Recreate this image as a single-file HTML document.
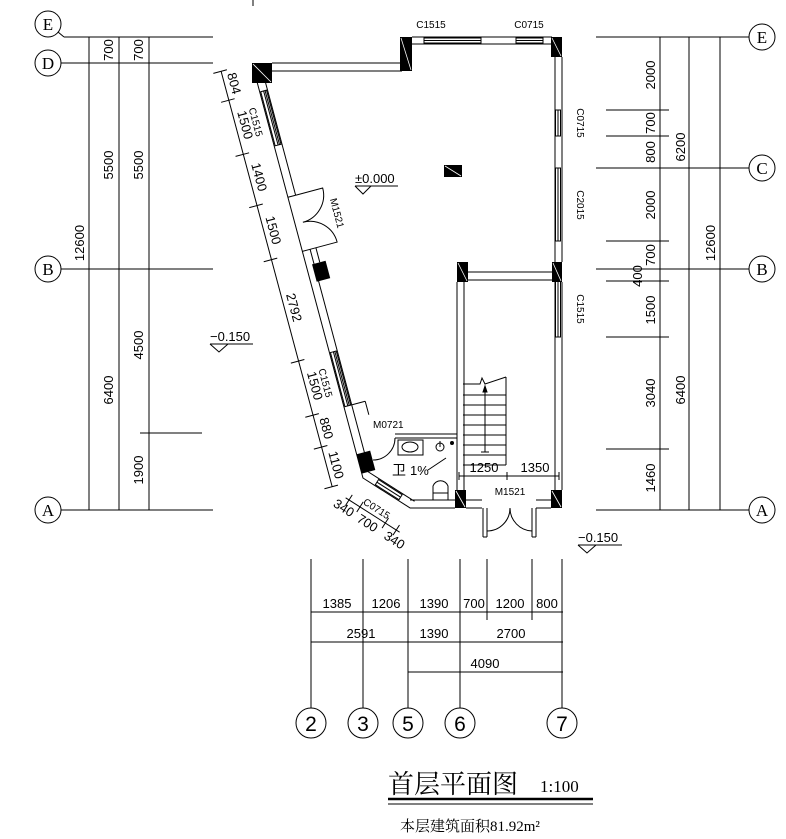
<!DOCTYPE html>
<html><head><meta charset="utf-8"><style>
body{margin:0;background:#fff}
svg{display:block}
text{fill:#000}
.d{font-size:13px;font-family:"Liberation Sans","Noto Sans CJK SC",sans-serif}
.s{font-size:10px}
</style></head><body>
<svg width="786" height="839" viewBox="0 0 786 839" xmlns="http://www.w3.org/2000/svg" stroke="#000" fill="none" stroke-width="1">
<line x1="253" y1="0" x2="253" y2="6"/>
<!-- LEFT AXES -->
<g>
<circle cx="48" cy="24" r="13"/><circle cx="48" cy="63" r="13"/><circle cx="48" cy="269" r="13"/><circle cx="48" cy="510" r="13"/>
<line x1="58" y1="32" x2="64" y2="37"/>
<line x1="64" y1="37" x2="213" y2="37"/><line x1="61" y1="63" x2="213" y2="63"/>
<line x1="61" y1="269" x2="213" y2="269"/><line x1="61" y1="510" x2="213" y2="510"/>
<line x1="140" y1="433" x2="202" y2="433"/>
<line x1="89" y1="37" x2="89" y2="510"/><line x1="119" y1="37" x2="119" y2="510"/><line x1="149" y1="37" x2="149" y2="510"/>
</g>
<g stroke="none" class="d">
<g style="font-family:'Liberation Serif',serif;font-size:17px">
<text x="48" y="30" text-anchor="middle">E</text>
<text x="48" y="69" text-anchor="middle">D</text>
<text x="48" y="275" text-anchor="middle">B</text>
<text x="48" y="516" text-anchor="middle">A</text>
</g>
<text transform="translate(113,50) rotate(-90)" text-anchor="middle">700</text>
<text transform="translate(143,50) rotate(-90)" text-anchor="middle">700</text>
<text transform="translate(113,165) rotate(-90)" text-anchor="middle">5500</text>
<text transform="translate(143,165) rotate(-90)" text-anchor="middle">5500</text>
<text transform="translate(84,243) rotate(-90)" text-anchor="middle">12600</text>
<text transform="translate(113,390) rotate(-90)" text-anchor="middle">6400</text>
<text transform="translate(143,345) rotate(-90)" text-anchor="middle">4500</text>
<text transform="translate(143,470) rotate(-90)" text-anchor="middle">1900</text>
</g>
<!-- RIGHT AXES -->
<g>
<circle cx="762" cy="37" r="13"/><circle cx="762" cy="168" r="13"/><circle cx="762" cy="269" r="13"/><circle cx="762" cy="510" r="13"/>
<line x1="596" y1="37" x2="749" y2="37"/><line x1="596" y1="168" x2="749" y2="168"/>
<line x1="596" y1="269" x2="749" y2="269"/><line x1="596" y1="510" x2="749" y2="510"/>
<line x1="606" y1="110" x2="669" y2="110"/><line x1="606" y1="136" x2="669" y2="136"/>
<line x1="606" y1="241" x2="669" y2="241"/><line x1="606" y1="281" x2="669" y2="281"/>
<line x1="606" y1="337" x2="669" y2="337"/><line x1="606" y1="449" x2="669" y2="449"/>
<line x1="660" y1="37" x2="660" y2="510"/><line x1="689" y1="37" x2="689" y2="510"/><line x1="720" y1="37" x2="720" y2="510"/>
</g>
<g stroke="none" class="d">
<g style="font-family:'Liberation Serif',serif;font-size:17px">
<text x="762" y="43" text-anchor="middle">E</text>
<text x="762" y="174" text-anchor="middle">C</text>
<text x="762" y="275" text-anchor="middle">B</text>
<text x="762" y="516" text-anchor="middle">A</text>
</g>
<text transform="translate(655,75) rotate(-90)" text-anchor="middle">2000</text>
<text transform="translate(655,123) rotate(-90)" text-anchor="middle">700</text>
<text transform="translate(655,152) rotate(-90)" text-anchor="middle">800</text>
<text transform="translate(655,205) rotate(-90)" text-anchor="middle">2000</text>
<text transform="translate(655,255) rotate(-90)" text-anchor="middle">700</text>
<text transform="translate(642,276) rotate(-90)" text-anchor="middle">400</text>
<text transform="translate(655,310) rotate(-90)" text-anchor="middle">1500</text>
<text transform="translate(655,393) rotate(-90)" text-anchor="middle">3040</text>
<text transform="translate(655,478) rotate(-90)" text-anchor="middle">1460</text>
<text transform="translate(685,147) rotate(-90)" text-anchor="middle">6200</text>
<text transform="translate(685,390) rotate(-90)" text-anchor="middle">6400</text>
<text transform="translate(715,243) rotate(-90)" text-anchor="middle">12600</text>
</g>
<!-- WALLS -->
<g>
<line x1="272" y1="63" x2="402" y2="63"/><line x1="272" y1="71" x2="402" y2="71"/>
<line x1="412" y1="37" x2="552" y2="37"/><line x1="412" y1="44" x2="552" y2="44"/>
<rect x="424" y="38" width="57" height="5"/><line x1="424" y1="40.5" x2="481" y2="40.5"/>
<rect x="516" y="38" width="27" height="5"/><line x1="516" y1="40.5" x2="543" y2="40.5"/>
<line x1="555" y1="57" x2="555" y2="262"/><line x1="562" y1="57" x2="562" y2="262"/>
<line x1="555" y1="282" x2="555" y2="490"/><line x1="562" y1="282" x2="562" y2="490"/>
<rect x="555.5" y="110" width="5" height="26"/><line x1="558" y1="110" x2="558" y2="136"/>
<rect x="555.5" y="168" width="5" height="73"/><line x1="558" y1="168" x2="558" y2="241"/>
<rect x="555.5" y="281" width="5" height="56"/><line x1="558" y1="281" x2="558" y2="337"/>
<line x1="468" y1="272" x2="552" y2="272"/><line x1="468" y1="280" x2="552" y2="280"/>
<line x1="457" y1="282" x2="457" y2="490"/><line x1="464" y1="282" x2="464" y2="490"/>
<line x1="410" y1="500" x2="455" y2="500"/><line x1="410" y1="508" x2="455" y2="508"/>
<line x1="466" y1="500" x2="482" y2="500"/><line x1="466" y1="508" x2="482" y2="508"/>
<line x1="536" y1="500" x2="551" y2="500"/><line x1="536" y1="508" x2="551" y2="508"/>
<!-- entry door -->
<line x1="483" y1="508" x2="483" y2="537"/><line x1="487" y1="508" x2="487" y2="537"/><line x1="483" y1="537" x2="487" y2="537"/>
<line x1="532" y1="508" x2="532" y2="537"/><line x1="536" y1="508" x2="536" y2="537"/><line x1="532" y1="537" x2="536" y2="537"/>
<path d="M487 531 A23 23 0 0 0 510 508 M532 531 A23 23 0 0 1 510 508"/>
</g>
<!-- columns -->
<g fill="#000" stroke="none">
<rect x="252" y="63" width="20" height="20"/><rect x="400" y="37" width="12" height="34"/>
<rect x="551" y="37" width="11" height="20"/><rect x="552" y="262" width="10" height="20"/>
<rect x="457" y="262" width="11" height="20"/><rect x="455" y="490" width="11" height="18"/>
<rect x="551" y="490" width="11" height="18"/><rect x="444" y="165" width="18" height="12"/>
</g>
<g stroke="#fff" stroke-width="0.8">
<line x1="253" y1="64" x2="271" y2="82"/><line x1="401" y1="38" x2="411" y2="70"/><line x1="552" y1="38" x2="561" y2="56"/>
<line x1="553" y1="263" x2="561" y2="281"/><line x1="458" y1="263" x2="467" y2="281"/><line x1="456" y1="491" x2="465" y2="507"/>
<line x1="552" y1="491" x2="561" y2="507"/><line x1="445" y1="166" x2="461" y2="176"/>
</g>
<!-- SLANTED WALL local frame -->
<g transform="translate(252,63) rotate(75.03)">
<line x1="20" y1="0" x2="430" y2="0"/><line x1="20" y1="-8" x2="139" y2="-8"/><line x1="195" y1="-8" x2="415" y2="-8"/>
<line x1="195" y1="-14" x2="210" y2="-14"/>
<rect x="30" y="-7" width="56" height="6"/><line x1="30" y1="-4" x2="86" y2="-4"/><line x1="30" y1="-5.5" x2="86" y2="-5.5"/>
<rect x="300" y="-7" width="56" height="6"/><line x1="300" y1="-4" x2="356" y2="-4"/><line x1="300" y1="-5.5" x2="356" y2="-5.5"/>
<line x1="139" y1="0" x2="139" y2="-8"/><line x1="195" y1="0" x2="195" y2="-8"/>
<path d="M139 -8 L139 -36 A28 28 0 0 1 167 -8 M195 -8 L195 -36 A28 28 0 0 0 167 -8"/>
<line x1="356" y1="-8" x2="356" y2="-22"/><line x1="356" y1="-22" x2="370" y2="-22"/>
<rect x="210" y="-20" width="18" height="14" fill="#000" stroke="none"/>
<rect x="405" y="-14" width="20" height="14" fill="#000" stroke="none"/>
<line x1="0" y1="32" x2="430" y2="32"/>
<g stroke-width="1">
<line x1="0" y1="26" x2="0" y2="40"/><line x1="30" y1="26" x2="30" y2="40"/><line x1="86" y1="26" x2="86" y2="40"/>
<line x1="139" y1="26" x2="139" y2="40"/><line x1="195" y1="26" x2="195" y2="40"/><line x1="300" y1="26" x2="300" y2="40"/>
<line x1="356" y1="26" x2="356" y2="40"/><line x1="389" y1="26" x2="389" y2="40"/><line x1="430" y1="26" x2="430" y2="40"/>
</g>
<g stroke="none" class="d">
<text x="15" y="27" text-anchor="middle">804</text>
<text x="58" y="27" text-anchor="middle">1500</text>
<text x="58" y="15" text-anchor="middle" class="s">C1515</text>
<text x="112" y="27" text-anchor="middle">1400</text>
<text x="167" y="27" text-anchor="middle">1500</text>
<text x="247" y="27" text-anchor="middle">2792</text>
<text x="328" y="27" text-anchor="middle">1500</text>
<text x="328" y="15" text-anchor="middle" class="s">C1515</text>
<text x="372" y="27" text-anchor="middle">880</text>
<text x="410" y="27" text-anchor="middle">1100</text>
<text x="167" y="-40" text-anchor="middle" class="s">M1521</text>
</g>
</g>
<!-- bottom diagonal -->
<g transform="translate(363,478) rotate(32.5)">
<line x1="0" y1="0" x2="56" y2="0"/><line x1="0" y1="-8" x2="56" y2="-8"/>
<rect x="14" y="-7" width="28" height="6"/><line x1="14" y1="-4" x2="42" y2="-4"/>
<line x1="-4" y1="26" x2="60" y2="26"/>
<line x1="0" y1="20" x2="0" y2="32"/><line x1="13" y1="20" x2="13" y2="32"/><line x1="43" y1="20" x2="43" y2="32"/><line x1="56" y1="20" x2="56" y2="32"/>
<g stroke="none" class="d">
<text x="28" y="22" text-anchor="middle" class="s">C0715</text>
<text x="28" y="40" text-anchor="middle">700</text>
<text x="0" y="40" text-anchor="middle">340</text>
<text x="60" y="40" text-anchor="middle">340</text>
</g>
</g>
<!-- toilet -->
<g>
<line x1="395" y1="434" x2="457" y2="434"/><line x1="395" y1="438" x2="457" y2="438"/>
<path d="M395 438 A22 22 0 0 1 373 460"/>
<rect x="398" y="440" width="25" height="15"/><ellipse cx="410" cy="447" rx="8" ry="5"/>
<circle cx="440" cy="447" r="4"/><line x1="440" y1="441" x2="440" y2="447"/>
<circle cx="452" cy="443" r="1.5" fill="#000"/>
<line x1="428" y1="470" x2="446" y2="458"/>
<path d="M433 500 L433 486 A8 8 0 0 1 448 486 L448 500 Z"/><line x1="433" y1="493" x2="448" y2="493"/>
<!-- stair -->
<line x1="463" y1="465" x2="506" y2="465"/><line x1="506" y1="377" x2="506" y2="465"/>
<path d="M463 384 L480 384 L482 378 L485 384 L506 377"/>
<line x1="463" y1="395" x2="506" y2="395"/><line x1="463" y1="405" x2="506" y2="405"/>
<line x1="463" y1="415" x2="506" y2="415"/><line x1="463" y1="425" x2="506" y2="425"/>
<line x1="463" y1="435" x2="506" y2="435"/><line x1="463" y1="445" x2="506" y2="445"/>
<line x1="463" y1="455" x2="506" y2="455"/>
<line x1="485" y1="388" x2="485" y2="452"/><line x1="481" y1="452" x2="489" y2="452"/>
<path d="M485 386 L483 392 L487 392 Z" fill="#000"/>
<!-- dims inside -->
<line x1="459" y1="476" x2="559" y2="476"/><line x1="459" y1="472" x2="459" y2="480"/>
<line x1="507" y1="472" x2="507" y2="480"/><line x1="559" y1="472" x2="559" y2="480"/>
<!-- levels -->
<line x1="355" y1="186" x2="398" y2="186"/><path d="M355 186 L363 194 L371 186"/>
<line x1="210" y1="344" x2="253" y2="344"/><path d="M210 344 L219 352 L228 344"/>
<line x1="578" y1="545" x2="622" y2="545"/><path d="M578 545 L587 553 L596 545"/>
</g>
<g stroke="none" class="d">
<text x="431" y="28" text-anchor="middle" class="s">C1515</text>
<text x="529" y="28" text-anchor="middle" class="s">C0715</text>
<text transform="translate(577,123) rotate(90)" text-anchor="middle" class="s">C0715</text>
<text transform="translate(577,205) rotate(90)" text-anchor="middle" class="s">C2015</text>
<text transform="translate(577,309) rotate(90)" text-anchor="middle" class="s">C1515</text>
<text x="355" y="183">±0.000</text>
<text x="210" y="341">−0.150</text>
<text x="578" y="542">−0.150</text>
<text x="373" y="428" class="s">M0721</text>
<text x="510" y="495" text-anchor="middle" class="s">M1521</text>
<text x="484" y="472" text-anchor="middle">1250</text>
<text x="535" y="472" text-anchor="middle">1350</text>
<text x="392" y="475" style="font-size:14px">卫</text>
<text x="410" y="475">1%</text>
</g>
<!-- BOTTOM DIMS -->
<g>
<line x1="311" y1="559" x2="311" y2="708"/><line x1="363" y1="559" x2="363" y2="708"/>
<line x1="408" y1="559" x2="408" y2="708"/><line x1="460" y1="559" x2="460" y2="708"/>
<line x1="562" y1="559" x2="562" y2="708"/>
<line x1="487" y1="559" x2="487" y2="620"/><line x1="532" y1="559" x2="532" y2="620"/>
<line x1="311" y1="612" x2="563" y2="612"/><line x1="311" y1="642" x2="563" y2="642"/><line x1="408" y1="672" x2="563" y2="672"/>
<circle cx="311" cy="723" r="15"/><circle cx="363" cy="723" r="15"/><circle cx="408" cy="723" r="15"/>
<circle cx="460" cy="723" r="15"/><circle cx="562" cy="723" r="15"/>
<line x1="388" y1="799" x2="593" y2="799" stroke-width="2.5"/><line x1="388" y1="804" x2="593" y2="804"/>
</g>
<g stroke="none" class="d">
<text x="337" y="608" text-anchor="middle">1385</text><text x="386" y="608" text-anchor="middle">1206</text>
<text x="434" y="608" text-anchor="middle">1390</text><text x="474" y="608" text-anchor="middle">700</text>
<text x="510" y="608" text-anchor="middle">1200</text><text x="547" y="608" text-anchor="middle">800</text>
<text x="361" y="638" text-anchor="middle">2591</text><text x="434" y="638" text-anchor="middle">1390</text>
<text x="511" y="638" text-anchor="middle">2700</text><text x="485" y="668" text-anchor="middle">4090</text>
<g style="font-size:21px;font-family:'Liberation Sans',sans-serif">
<text x="311" y="731" text-anchor="middle">2</text><text x="363" y="731" text-anchor="middle">3</text>
<text x="408" y="731" text-anchor="middle">5</text><text x="460" y="731" text-anchor="middle">6</text>
<text x="562" y="731" text-anchor="middle">7</text>
</g>
<text x="388" y="793" style="font-family:'Noto Serif CJK SC','Noto Sans CJK SC',serif;font-size:26px">首层平面图</text>
<text x="540" y="792" style="font-family:'Liberation Serif',serif;font-size:17px">1:100</text>
<text x="400" y="831" style="font-family:'Noto Serif CJK SC','Noto Sans CJK SC',serif;font-size:15px">本层建筑面积<tspan style="font-family:'Liberation Serif',serif">81.92m²</tspan></text>
</g>
</svg>
</body></html>
